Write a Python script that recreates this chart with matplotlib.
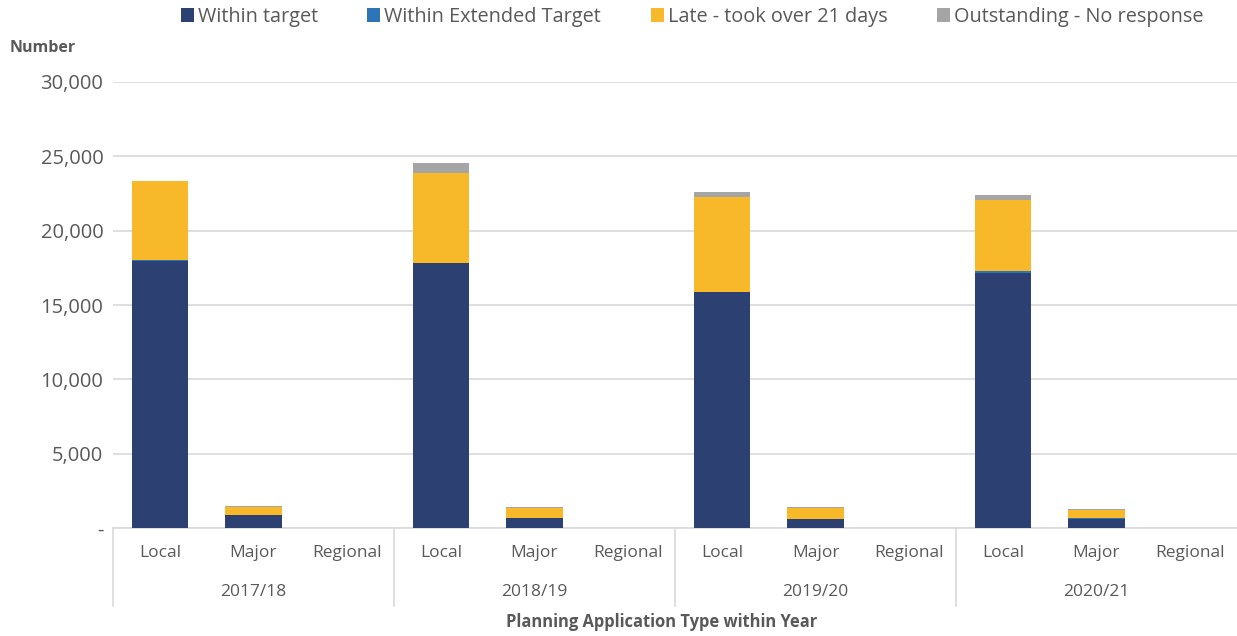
import numpy as np
import matplotlib.pyplot as plt
import matplotlib.transforms as mtransforms
from matplotlib.lines import Line2D
from matplotlib.ticker import FuncFormatter

years = ["2017/18", "2018/19", "2019/20", "2020/21"]
types = ["Local", "Major", "Regional"]

# values in order year -> (Local, Major, Regional)
within_target = [17950, 895, 25, 17820, 670, 10, 15870, 605, 20, 17180, 605, 10]
within_extended = [60, 10, 0, 30, 10, 0, 30, 10, 0, 80, 70, 0]
late = [5340, 530, 5, 6020, 640, 5, 6360, 750, 5, 4800, 515, 5]
outstanding = [20, 70, 0, 680, 90, 0, 340, 50, 0, 340, 70, 0]

series = [
    ("Within target", within_target, "#2c4172"),
    ("Within Extended Target", within_extended, "#2e75b6"),
    ("Late - took over 21 days", late, "#f7b829"),
    ("Outstanding - No response", outstanding, "#a5a5a5"),
]

txt = "#595959"
grid = "#d9d9d9"
plt.rcParams['font.family'] = ['Open Sans', 'DejaVu Sans']

fig = plt.figure(figsize=(12.37, 6.36), dpi=100)
ax = fig.add_axes([113 / 1237, 108 / 636, 1124 / 1237, 446 / 636])

x = np.arange(len(within_target))
bottom = np.zeros(len(x))
for name, vals, col in series:
    v = np.array(vals, dtype=float)
    ax.bar(x, v, width=0.6, bottom=bottom, color=col, label=name, zorder=3)
    bottom += v

ax.set_xlim(-0.5, len(x) - 0.5)
ax.set_ylim(0, 30000)
ax.set_yticks(np.arange(0, 30001, 5000))
ax.yaxis.set_major_formatter(FuncFormatter(lambda v, p: "-" if v == 0 else f"{int(v):,}"))
ax.tick_params(axis='y', length=0, labelsize=14.5, labelcolor=txt, pad=7)
ax.set_xticks([])
ax.grid(axis='y', color=grid, linewidth=1.2, zorder=0)
for s in ["top", "right", "left"]:
    ax.spines[s].set_visible(False)
ax.spines["bottom"].set_color(grid)
ax.spines["bottom"].set_linewidth(1.2)

# multi-level category axis
trans = mtransforms.blended_transform_factory(ax.transData, ax.transAxes)
for i in x:
    ax.text(i, -25 / 446, types[i % 3], transform=trans, ha='center', va='center',
            fontsize=12.5, color=txt)
for g, yr in enumerate(years):
    ax.text(g * 3 + 1, -64 / 446, yr, transform=trans, ha='center', va='center',
            fontsize=12.5, color=txt)
for b in [-0.5, 2.5, 5.5, 8.5]:
    ax.add_line(Line2D([b, b], [0, -78 / 446], transform=trans, color=grid,
                       linewidth=1.2, clip_on=False))

fig.text(10 / 1237, 1 - 48 / 636, "Number", fontsize=11.5, fontweight='bold',
         color=txt, va='center', ha='left')
fig.text(662 / 1237, 1 - 622 / 636, "Planning Application Type within Year",
         fontsize=11.9, fontweight='bold', color=txt, va='center', ha='center')

fig.legend(loc='center', bbox_to_anchor=(692 / 1237, 1 - 17 / 636), ncol=4,
           frameon=False, fontsize=14.3, labelcolor=txt, handlelength=0.65,
           handleheight=0.65, handletextpad=0.2, columnspacing=2.5)

fig.savefig("out.png", dpi=100)
